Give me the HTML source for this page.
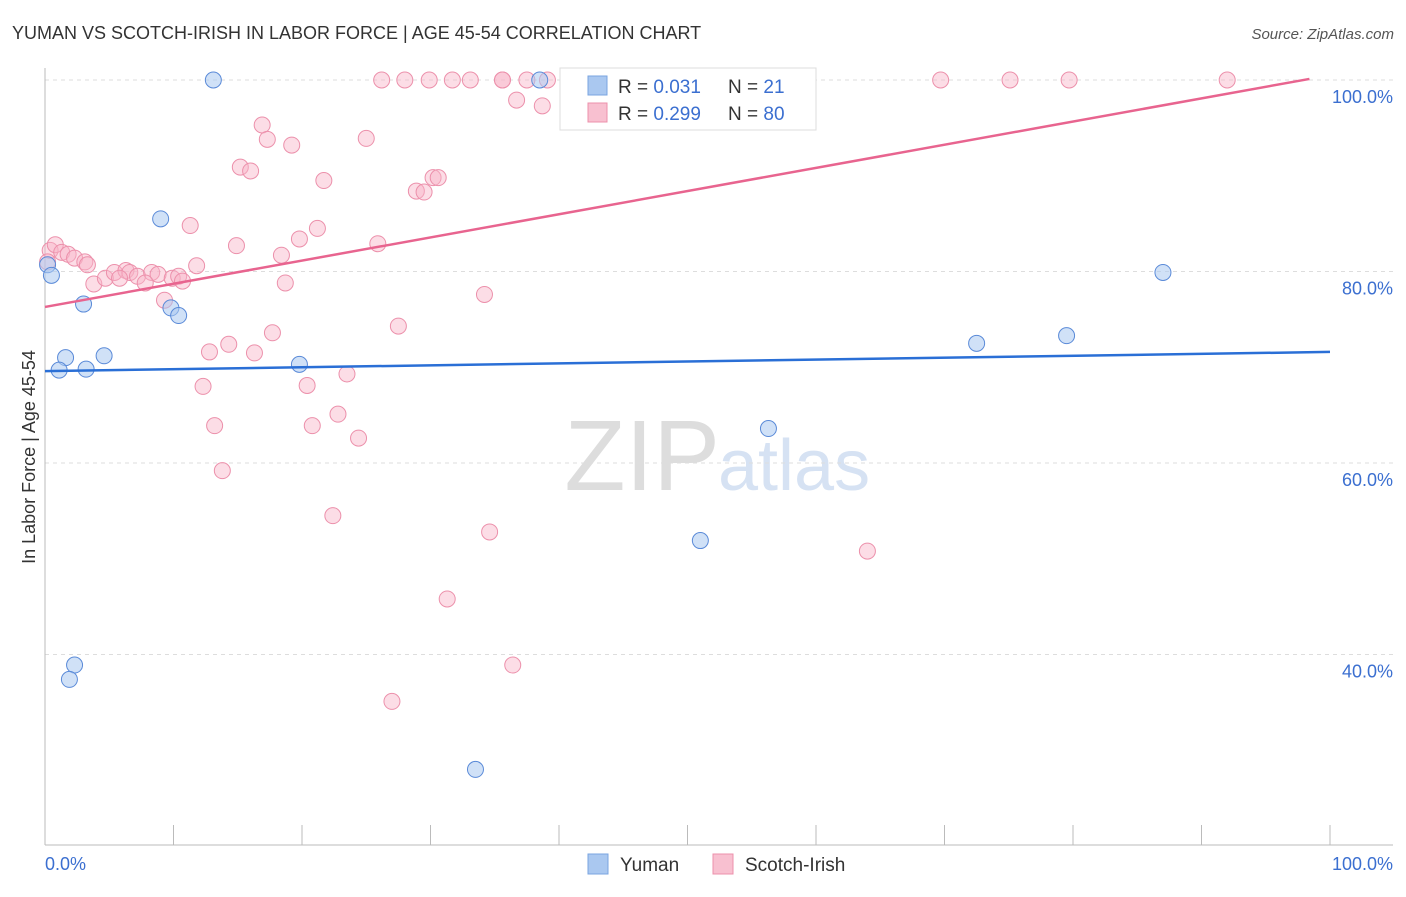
<!DOCTYPE html>
<html><head><meta charset="utf-8"><style>
body{margin:0;background:#fff;font-family:"Liberation Sans",sans-serif}
svg text{font-family:"Liberation Sans",sans-serif}
</style></head><body>
<svg id="c" width="1406" height="892">
<text x="12" y="39" font-size="18" fill="#333">YUMAN VS SCOTCH-IRISH IN LABOR FORCE | AGE 45-54 CORRELATION CHART</text>
<text x="1394" y="39" font-size="15" fill="#555" font-style="italic" text-anchor="end">Source: ZipAtlas.com</text>
<text x="720" y="490" font-size="100" fill="#ddd" text-anchor="end" font-family="Liberation Serif">ZIP</text>
<text x="718" y="490" font-size="72" fill="#d6e2f3">atlas</text>
<g id="grid"></g><g id="pts"></g><g id="lines"></g>
<text x="35" y="457" font-size="18" fill="#333" text-anchor="middle" transform="rotate(-90 35 457)">In Labor Force | Age 45-54</text>
<text x="45" y="870" font-size="18" fill="#3b6fd0">0.0%</text>
<text x="1393" y="870" font-size="18" fill="#3b6fd0" text-anchor="end">100.0%</text>
<g>
<rect x="560" y="68" width="256" height="62" fill="#fff" stroke="#ddd"/>
<rect x="588" y="76" width="19" height="19" fill="#aac8f0" stroke="#7aa4e0"/>
<rect x="588" y="103" width="19" height="19" fill="#f8c0d0" stroke="#ec90ab"/>
<text x="618" y="93" font-size="19" fill="#333">R = <tspan fill="#3b6fd0">0.031</tspan></text>
<text x="728" y="93" font-size="19" fill="#333">N = <tspan fill="#3b6fd0"> 21</tspan></text>
<text x="618" y="120" font-size="19" fill="#333">R = <tspan fill="#3b6fd0">0.299</tspan></text>
<text x="728" y="120" font-size="19" fill="#333">N = <tspan fill="#3b6fd0">80</tspan></text>
</g>
<g>
<rect x="588" y="854" width="20" height="20" fill="#aac8f0" stroke="#7aa4e0"/>
<text x="620" y="871" font-size="19" fill="#333">Yuman</text>
<rect x="713" y="854" width="20" height="20" fill="#f8c0d0" stroke="#ec90ab"/>
<text x="745" y="871" font-size="19" fill="#333">Scotch-Irish</text>
</g>
</svg>
<script>
const yTicks=[40,60,80,100];
const yTickLabels=["40.0%","60.0%","80.0%","100.0%"];
const yumanX=[13.1,38.5,9.0,0.2,0.5,3.0,9.8,10.4,1.6,4.6,1.1,3.2,19.8,87.0,72.5,79.5,56.3,51.0,2.3,1.9,33.5];
const yumanY=[100,100,85.5,80.7,79.6,76.6,76.2,75.4,71.0,71.2,69.7,69.8,70.3,79.9,72.5,73.3,63.6,51.9,38.9,37.4,28.0];
const scotX=[26.2,28.0,29.9,31.7,33.1,35.6,35.6,37.5,39.1,51.5,69.7,75.1,79.7,92.0,36.7,38.7,16.9,17.3,25.0,19.2,15.2,16.0,21.7,28.9,29.5,30.2,30.6,11.3,21.2,19.8,14.9,25.9,18.4,0.4,0.8,1.3,1.8,2.3,3.1,3.3,11.8,0.2,3.8,4.7,5.4,6.3,6.6,5.8,7.2,8.3,8.8,7.8,9.9,10.4,10.7,9.3,18.7,34.2,27.5,17.7,14.3,12.8,16.3,23.5,12.3,20.4,22.8,20.8,13.2,24.4,13.8,22.4,34.6,64.0,31.3,36.4,27.0];
const scotY=[100,100,100,100,100,100,100,100,100,100,100,100,100,100,97.9,97.3,95.3,93.8,93.9,93.2,90.9,90.5,89.5,88.4,88.3,89.8,89.8,84.8,84.5,83.4,82.7,82.9,81.7,82.2,82.8,82.0,81.8,81.4,81.0,80.7,80.6,81.0,78.7,79.3,79.9,80.1,79.9,79.3,79.5,79.9,79.7,78.8,79.3,79.5,79.0,77.0,78.8,77.6,74.3,73.6,72.4,71.6,71.5,69.3,68.0,68.1,65.1,63.9,63.9,62.6,59.2,54.5,52.8,50.8,45.8,38.9,35.1];
const blueLine=[69.6,71.6];const pinkLine=[76.3,100.5];
const X=v=>45+v*12.85, Y=v=>80+(100-v)*9.575;
const NS="http://www.w3.org/2000/svg";
function mk(t,a,p){const e=document.createElementNS(NS,t);for(const k in a)e.setAttribute(k,a[k]);p.appendChild(e);return e;}
const g=document.getElementById('grid');
yTicks.forEach((t,i)=>{const l=mk('line',{x1:45,x2:1393,y1:Y(t),y2:Y(t),stroke:'#ddd','stroke-dasharray':'4,4'},g);


const tx=mk('text',{x:1393,y:Y(t)+23,'font-size':18,fill:'#3b6fd0','text-anchor':'end'},g);tx.textContent=yTickLabels[i];

});
const ax=mk('line',{x1:45,x2:45,y1:68,y2:845,stroke:'#bbb'},g);


const bx=mk('line',{x1:45,x2:1393,y1:845,y2:845,stroke:'#bbb'},g);


for(let i=0;i<=10;i++){const t=mk('line',{x1:X(i*10),x2:X(i*10),y1:825,y2:845,stroke:'#bbb'},g);

}
const p=document.getElementById('pts');
scotX.forEach((x,i)=>{const c=mk('circle',{cx:X(x),cy:Y(scotY[i]),r:8,fill:'rgba(248,180,200,0.45)',stroke:'#ec90ab','stroke-width':1},p);

});
yumanX.forEach((x,i)=>{const c=mk('circle',{cx:X(x),cy:Y(yumanY[i]),r:8,fill:'rgba(170,200,240,0.55)',stroke:'#5a8ad8','stroke-width':1},p);

});
const L=document.getElementById('lines');
const b=mk('line',{x1:X(0),y1:Y(blueLine[0]),x2:X(100),y2:Y(blueLine[1]),stroke:'#2a6fd6','stroke-width':2.5},L);


const pl=mk('line',{x1:X(0),y1:Y(pinkLine[0]),x2:X(98.4),y2:Y(pinkLine[0]+(pinkLine[1]-pinkLine[0])*0.984),stroke:'#e8648f','stroke-width':2.5},L);


</script>
</body></html>
